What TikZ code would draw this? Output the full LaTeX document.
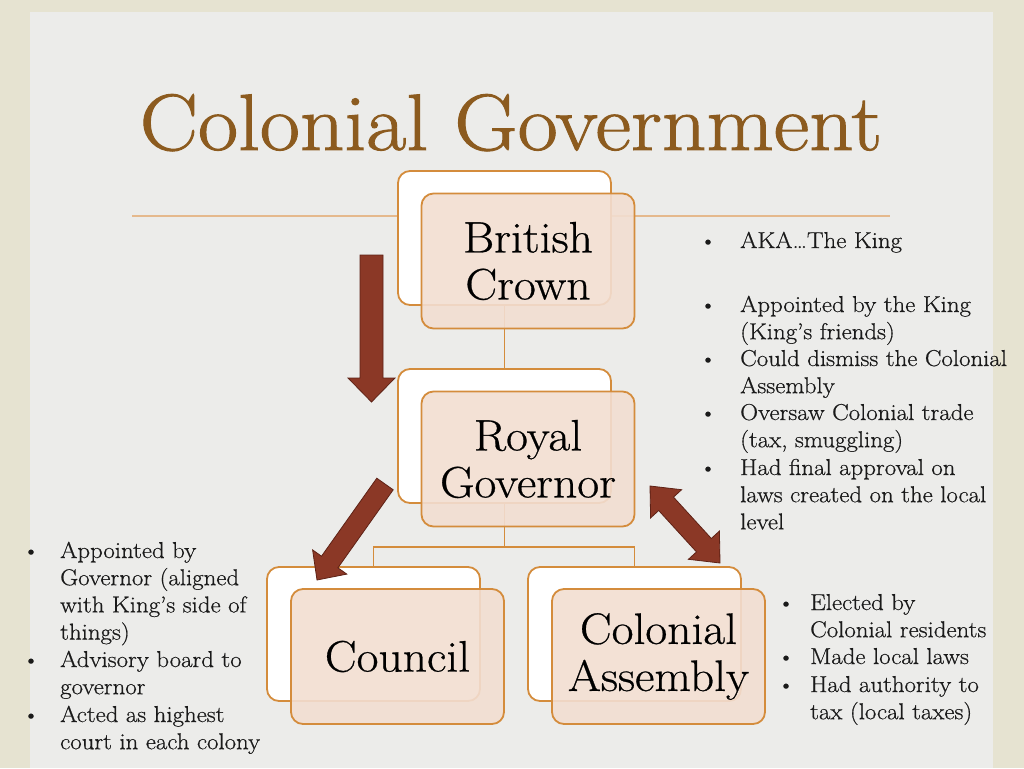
\documentclass[tikz,border=0pt]{standalone}
\usepackage{fontspec}
\setmainfont{Latin Modern Roman}[FakeBold=0.6,FakeStretch=1.08]
\newfontfamily\titlefont{Latin Modern Roman}[FakeBold=1.2,FakeStretch=1.09]
\definecolor{bgbeige}{HTML}{E6E3D1}
\definecolor{bggrey}{HTML}{ECECEA}
\definecolor{titlebrown}{HTML}{8C5B1F}
\definecolor{boxorange}{HTML}{D48C3C}
\definecolor{boxpeach}{HTML}{F2DED1}
\definecolor{arrowred}{HTML}{8B3826}
\definecolor{arrowedge}{HTML}{5E2216}
\definecolor{rulecol}{HTML}{E5B98D}
\definecolor{textcol}{HTML}{1A1A1A}
\newcommand{\bl}[1]{\begin{tabular}[t]{@{}l@{}}#1\end{tabular}}
\begin{document}
\begin{tikzpicture}[x=1pt,y=-1pt,
 backbox/.style={draw=boxorange, line width=1.8pt, fill=white, rounded corners=12pt, minimum width=213pt, minimum height=134pt, inner sep=0pt},
 frontbox/.style={draw=boxorange, line width=1.8pt, fill=boxpeach, fill opacity=0.9, text opacity=1, rounded corners=12pt, minimum width=213pt, minimum height=135pt, align=center, font=\fontsize{44}{47}\selectfont, text=black, inner sep=0pt},
 link/.style={draw=boxorange, line width=1.5pt},
 blockarrow/.style={fill=arrowred, draw=arrowedge, line width=0.8pt, line join=miter},
 bullettext/.style={anchor=base west, font=\fontsize{23}{27.2}\selectfont, text=textcol, inner sep=0pt},
 bulletmark/.style={anchor=base, font=\fontsize{22}{27.2}\selectfont, text=textcol, inner sep=0pt}]
\useasboundingbox (0,0) rectangle (1024,768);
% background
\fill[bgbeige] (0,0) rectangle (1024,768);
\fill[bggrey] (30,12) rectangle (993,768);
% title
\node[font=\titlefont\fontsize{80}{90}\selectfont, text=titlebrown, anchor=base, inner sep=0pt] (title) at (511,150) {Colonial Government};
\coordinate (ruleL) at (132,216);
\coordinate (ruleR) at (890,216);
\draw[rulecol, line width=1.2pt] (ruleL) -- (ruleR);
% back boxes
\node[backbox] (crownback) at (504.5,238) {};
\node[backbox] (govback) at (504.5,436) {};
\node[backbox] (councilback) at (373.5,634) {};
\node[backbox] (assemblyback) at (634.5,634) {};
% links
\coordinate (bus) at (504.5,547);
\draw[link] (crownback.south) -- (govback.north);
\draw[link] (govback.south) -- (bus);
\draw[link] (councilback.north) |- (bus) -| (assemblyback.north);
% front boxes
\node[frontbox] (crown) at (528,261) {British\\Crown};
\node[frontbox] (gov) at (528,459) {Royal\\Governor};
\node[frontbox] (council) at (397.5,656.5) {Council};
\node[frontbox] (assembly) at (658.5,656.5) {Colonial\\Assembly};
% block arrows
\draw[blockarrow] (360,255) -- (383,255) -- (383,378) -- (395,378) -- (371.5,402) -- (348,378) -- (360,378) -- cycle;
\draw[blockarrow] (376.8,478.2) -- (393.2,489.8) -- (337.9,567.8) -- (346.8,574.1) -- (317,580) -- (312.6,549.9) -- (321.5,556.2) -- cycle;
\draw[blockarrow] (650,486) -- (681.6,489.7) -- (673.5,497.1) -- (711.3,538.5) -- (719.4,531.1) -- (720,563) -- (688.4,559.3) -- (696.5,551.9) -- (658.7,510.5) -- (650.6,517.9) -- cycle;
% right list (crown / governor)
\node[bulletmark] (rb1) at (708,248) {\textbullet};
\node[bullettext] (rt1) at (740,248) {\bl{AKA…The King}};
\node[bulletmark] (rb2) at (708,312) {\textbullet};
\node[bullettext] (rt2) at (740,312) {\bl{Appointed by the King\\(King’s friends)}};
\node[bulletmark] (rb3) at (708,366) {\textbullet};
\node[bullettext] (rt3) at (740,366) {\bl{Could dismiss the Colonial\\Assembly}};
\node[bulletmark] (rb4) at (708,420) {\textbullet};
\node[bullettext] (rt4) at (740,420) {\bl{Oversaw Colonial trade\\(tax, smuggling)}};
\node[bulletmark] (rb5) at (708,475) {\textbullet};
\node[bullettext] (rt5) at (740,475) {\bl{Had final approval on\\laws created on the local\\level}};
% left list (council)
\node[bulletmark] (lb1) at (31,558) {\textbullet};
\node[bullettext] (lt1) at (60,558) {\bl{Appointed by\\Governor (aligned\\with King’s side of\\things)}};
\node[bulletmark] (lb2) at (31,667) {\textbullet};
\node[bullettext] (lt2) at (60,667) {\bl{Advisory board to\\governor}};
\node[bulletmark] (lb3) at (31,722) {\textbullet};
\node[bullettext] (lt3) at (60,722) {\bl{Acted as highest\\court in each colony}};
% bottom right list (assembly)
\node[bulletmark] (ab1) at (786,610) {\textbullet};
\node[bullettext] (at1) at (810,610) {\bl{Elected by\\Colonial residents}};
\node[bulletmark] (ab2) at (786,664) {\textbullet};
\node[bullettext] (at2) at (810,664) {\bl{Made local laws}};
\node[bulletmark] (ab3) at (786,692) {\textbullet};
\node[bullettext] (at3) at (810,692) {\bl{Had authority to\\tax (local taxes)}};
\end{tikzpicture}
\end{document}
